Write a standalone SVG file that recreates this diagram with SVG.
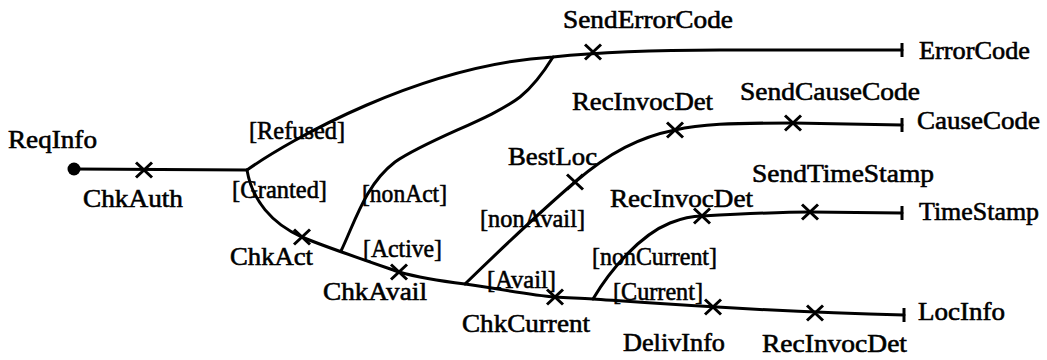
<svg xmlns="http://www.w3.org/2000/svg" width="1047" height="360" viewBox="0 0 1047 360">
<style>
.ln{fill:none;stroke:#000;stroke-width:3;stroke-linecap:round;stroke-linejoin:round}
.x{fill:none;stroke:#000;stroke-width:3;stroke-linecap:butt}
.tk{stroke:#000;stroke-width:3}
text{font-family:"Liberation Serif","Times New Roman",serif;font-size:26px;fill:#000;stroke:#000;stroke-width:0.6}
</style>
<defs>
<path id="xm" class="x" d="M-8,-7.5 L8,7.5 M-8,7.5 L8,-7.5"/>
</defs>
<rect width="1047" height="360" fill="#fff"/>
<g id="connectors">
<path class="ln" d="M74,169 L247,170"/>
<path class="ln" d="M247,170 C290,140 420,65 553,57 C600,52 650,50 720,50 L902,50"/>
<path class="ln" d="M247,170 C252,200 272,224 302,237 C320,245 370,262 399,272 C420,278 440,281 465,284 C500,289 530,295 555,297 C570,298 580,298 593,299 C650,303 750,311 904,315"/>
<path class="ln" d="M341,251 C355,222 365,185 395,162 C430,138 490,120 520,97 C535,85 545,70 553,57"/>
<path class="ln" d="M465,284 C500,250 540,212 575,182 C610,152 640,137 675,130 C700,124 730,123 793,123 L902,125"/>
<path class="ln" d="M593,299 C610,270 640,235 670,223 C685,217 695,216 702,216 C740,214 780,212 810,212 L902,213"/>
<g id="guards">
<text x="249" y="139" textLength="96" lengthAdjust="spacingAndGlyphs">[Refused]</text>
<text x="232" y="198" textLength="95" lengthAdjust="spacingAndGlyphs">[Granted]</text>
<text x="362" y="202" textLength="85" lengthAdjust="spacingAndGlyphs">[nonAct]</text>
<text x="363" y="257" textLength="79" lengthAdjust="spacingAndGlyphs">[Active]</text>
<text x="480" y="227" textLength="105" lengthAdjust="spacingAndGlyphs">[nonAvail]</text>
<text x="487" y="288" textLength="69" lengthAdjust="spacingAndGlyphs">[Avail]</text>
<text x="592" y="265" textLength="125" lengthAdjust="spacingAndGlyphs">[nonCurrent]</text>
<text x="613" y="300" textLength="90" lengthAdjust="spacingAndGlyphs">[Current]</text>
</g>
</g>
<g id="ReqInfo">
<circle cx="74" cy="169" r="6.5" fill="#000"/>
<text x="8" y="148" textLength="89" lengthAdjust="spacingAndGlyphs">ReqInfo</text>
</g>
<g id="ChkAuth"><use href="#xm" x="144" y="170"/><text x="83" y="207" textLength="100" lengthAdjust="spacingAndGlyphs">ChkAuth</text></g>
<g id="ChkAct"><use href="#xm" x="302" y="237"/><text x="230" y="265" textLength="83" lengthAdjust="spacingAndGlyphs">ChkAct</text></g>
<g id="ChkAvail"><use href="#xm" x="399" y="272"/><text x="323" y="300" textLength="104" lengthAdjust="spacingAndGlyphs">ChkAvail</text></g>
<g id="ChkCurrent"><use href="#xm" x="555" y="297"/><text x="462" y="332" textLength="128" lengthAdjust="spacingAndGlyphs">ChkCurrent</text></g>
<g id="SendErrorCode"><use href="#xm" x="593" y="52"/><text x="563" y="28" textLength="170" lengthAdjust="spacingAndGlyphs">SendErrorCode</text></g>
<g id="BestLoc"><use href="#xm" x="575" y="182"/><text x="508" y="165" textLength="89" lengthAdjust="spacingAndGlyphs">BestLoc</text></g>
<g id="RecInvocDet1"><use href="#xm" x="675" y="130"/><text x="572" y="110" textLength="141" lengthAdjust="spacingAndGlyphs">RecInvocDet</text></g>
<g id="SendCauseCode"><use href="#xm" x="793" y="123"/><text x="740" y="100" textLength="180" lengthAdjust="spacingAndGlyphs">SendCauseCode</text></g>
<g id="RecInvocDet2"><use href="#xm" x="702" y="216"/><text x="610" y="207" textLength="143" lengthAdjust="spacingAndGlyphs">RecInvocDet</text></g>
<g id="SendTimeStamp"><use href="#xm" x="810" y="212"/><text x="752" y="182" textLength="182" lengthAdjust="spacingAndGlyphs">SendTimeStamp</text></g>
<g id="DelivInfo"><use href="#xm" x="713" y="307"/><text x="623" y="351" textLength="102" lengthAdjust="spacingAndGlyphs">DelivInfo</text></g>
<g id="RecInvocDet3"><use href="#xm" x="815" y="313"/><text x="762" y="352" textLength="145" lengthAdjust="spacingAndGlyphs">RecInvocDet</text></g>
<g id="ErrorCode"><line class="tk" x1="902" y1="43" x2="902" y2="57"/><text x="919" y="59" textLength="111" lengthAdjust="spacingAndGlyphs">ErrorCode</text></g>
<g id="CauseCode"><line class="tk" x1="902" y1="118" x2="902" y2="132"/><text x="917" y="129" textLength="123" lengthAdjust="spacingAndGlyphs">CauseCode</text></g>
<g id="TimeStamp"><line class="tk" x1="902" y1="206" x2="902" y2="220"/><text x="919" y="220" textLength="120" lengthAdjust="spacingAndGlyphs">TimeStamp</text></g>
<g id="LocInfo"><line class="tk" x1="904" y1="308" x2="904" y2="322"/><text x="918" y="320" textLength="87" lengthAdjust="spacingAndGlyphs">LocInfo</text></g>
</svg>
